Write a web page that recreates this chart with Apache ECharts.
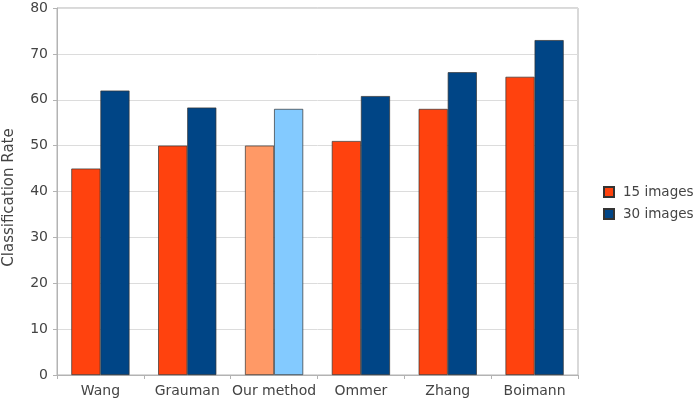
<!DOCTYPE html>
<html>
<head>
<meta charset="utf-8">
<script src="https://cdn.jsdelivr.net/npm/echarts@6/dist/echarts.min.js"></script>
<style>html,body{margin:0;padding:0;background:#fff;}#c{width:697px;height:411px;}</style>
</head>
<body>
<div id="c"></div>
<script>
const categories = ['Wang', 'Grauman', 'Our method', 'Ommer', 'Zhang', 'Boimann'];
const images15 = [45, 50, 50, 51, 58, 65];
const images30 = [62, 58.3, 58, 60.8, 66, 73];
const seriesNames = ['15 images', '30 images'];
const yTicks = [0, 10, 20, 30, 40, 50, 60, 70, 80];
const highlightCategory = 'Our method';

const baseColors = ['#ff420e', '#004586'];
const lightColors = ['#ff9966', '#83caff'];

function buildData(values, si) {
  return values.map((v, i) => categories[i] === highlightCategory
    ? { value: v, itemStyle: { color: lightColors[si] } }
    : v);
}

const chart = echarts.init(document.getElementById('c'), null, { renderer: 'canvas' });
const font = 'DejaVu Sans, Liberation Sans, sans-serif';
const txt = '#444444';
chart.setOption({
  animation: false,
  color: baseColors,
  textStyle: { fontFamily: font },
  grid: {
    left: 57, right: 119, top: 8, bottom: 36,
    outerBoundsMode: 'none',
    containLabel: false,
    show: true, borderColor: '#b3b3b3', borderWidth: 1
  },
  legend: {
    orient: 'vertical',
    left: 603, top: 185,
    itemWidth: 10, itemHeight: 10, itemGap: 8,
    icon: 'rect',
    padding: 0,
    textStyle: { fontSize: 13.5, lineHeight: 14, color: txt, fontFamily: font, padding: [0, 0, 0, 4] },
    data: seriesNames
  },
  xAxis: {
    type: 'category',
    data: categories,
    axisLine: { lineStyle: { color: '#b3b3b3' } },
    axisTick: { show: true, length: 4, lineStyle: { color: '#b3b3b3' } },
    axisLabel: { interval: 0, fontSize: 14, color: txt, margin: 9, fontFamily: font }
  },
  yAxis: {
    type: 'value',
    min: yTicks[0], max: yTicks[yTicks.length - 1], interval: 10,
    name: 'Classification Rate',
    nameLocation: 'middle',
    nameGap: 40,
    nameTextStyle: { fontSize: 15, color: txt, fontFamily: font, padding: [0, 12, 0, 0] },
    axisLine: { show: true, lineStyle: { color: '#b3b3b3' } },
    axisTick: { show: true, length: 4, lineStyle: { color: '#b3b3b3' } },
    axisLabel: { fontSize: 14, color: txt, margin: 9, fontFamily: font },
    splitLine: { lineStyle: { color: '#dcdcdc' } }
  },
  series: [
    {
      name: seriesNames[0], type: 'bar', data: buildData(images15, 0),
      barGap: '0%', barCategoryGap: '33%',
      itemStyle: { borderColor: '#333', borderWidth: 0.7 }
    },
    {
      name: seriesNames[1], type: 'bar', data: buildData(images30, 1),
      barGap: '0%', barCategoryGap: '33%',
      itemStyle: { borderColor: '#333', borderWidth: 0.7 }
    }
  ]
});
</script>
</body>
</html>
